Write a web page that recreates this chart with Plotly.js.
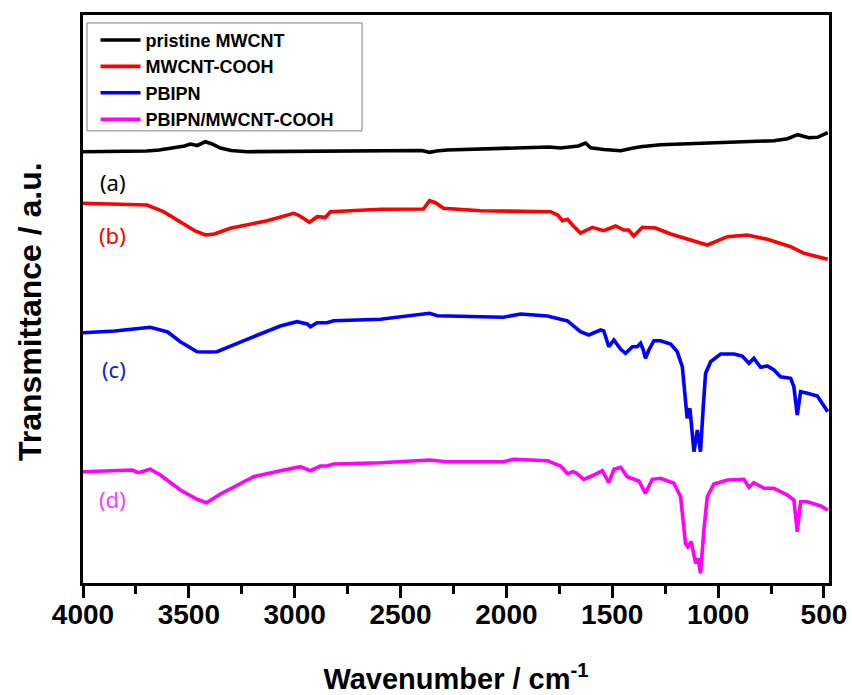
<!DOCTYPE html>
<html>
<head>
<meta charset="utf-8">
<script src="https://cdn.plot.ly/plotly-3.0.1.min.js"></script>
<style>html,body{margin:0;padding:0;background:#fff;}#chart{width:852px;height:695px;}</style>
</head>
<body>
<div id="chart"></div>
<script>
// Wavenumber (cm^-1) and transmittance (arbitrary units, offset traces)
const seriesNames = ["pristine MWCNT", "MWCNT-COOH", "PBIPN", "PBIPN/MWCNT-COOH"];
const seriesColors = ["#000000", "#ff0000", "#0000ff", "#ff00ff"];
const curveLabels = ["(a)", "(b)", "(c)", "(d)"];
const labelColors = ["#000000", "#ff0000", "#1a1ae6", "#ff3cff"];
const xTickVals = [4000, 3500, 3000, 2500, 2000, 1500, 1000, 500];
const xTickText = ["4000", "3500", "3000", "2500", "2000", "1500", "1000", "500"];

const wnA = [4000,3800,3700,3640,3556,3520,3493,3460,3422,3390,3351,3300,3225,3000,2700,2500,2400,2363,2330,2280,2000,1800,1744,1660,1626,1602,1540,1460,1400,1366,1272,1083,879,860,736,672,624,572,530,482];
const tA  = [431.3,431.5,432,433,436.3,437,439,437.5,441.3,439,435,432.5,431.3,431.5,431.8,432.2,432.5,430.7,432,433,434.7,436,435,437,440,435.3,433.5,432.3,435,436.3,438.3,439.7,440.7,441.7,442.3,444.3,448.3,445.3,445.7,450.3];

const wnB = [4000,3850,3698,3620,3540,3470,3422,3380,3304,3130,3005,2983,2930,2894,2855,2831,2595,2392,2363,2335,2297,2122,1792,1758,1735,1711,1688,1650,1594,1540,1484,1445,1423,1398,1358,1295,1224,1146,1051,956,862,767,657,594,482];
const tB  = [379.7,379,378,371.3,361.3,352,348,349,354.7,362.3,369.7,368,360.7,366.3,365.7,371.3,373.7,374,382.3,380.3,374.7,372.3,371.3,368,362.3,363.7,358,350,355.7,352.3,357,353,353,347,355.7,355,349,343.7,338,346.3,348,343.7,336.3,329.7,323.7];

const wnC = [4000,3850,3682,3600,3540,3461,3400,3367,3225,3068,2989,2941,2926,2894,2847,2816,2595,2363,2326,2122,2014,1933,1806,1730,1713,1650,1611,1555,1540,1516,1492,1460,1437,1405,1382,1366,1353,1343,1327,1303,1272,1224,1193,1169,1154,1146,1133,1114,1098,1083,1070,1059,1035,988,925,886,854,831,799,767,736,705,657,642,626,610,578,531,482];
const tC  = [250.3,252,255.7,251,241.3,231.3,231,231.3,243.7,257,261.3,259,256.3,260.3,260.3,262.3,263.7,269.7,267.3,266.3,265.7,269,267,263,262.3,251.3,248,253,252,236.3,243,233.7,229.7,236.3,236.3,239.7,233,224.7,233,242.3,242.3,239,231.3,216.3,176.3,164.7,174.7,131.3,153,131.3,176.3,209.7,221.3,229,229,227,219.7,224.7,215.7,217,213,206.3,204.7,196.3,168,191.3,189.7,187,171.3];

const wnD = [4000,3768,3739,3682,3635,3540,3461,3417,3351,3194,3068,2973,2926,2879,2847,2816,2595,2363,2280,2014,1966,1806,1744,1713,1705,1688,1673,1650,1634,1587,1547,1516,1492,1460,1429,1374,1343,1311,1272,1209,1177,1154,1143,1127,1106,1095,1083,1067,1051,1020,956,878,854,831,783,736,673,642,626,610,578,515,482];
const tD  = [111.3,113,110.3,113.7,108,93,83.7,80.3,89,106.3,112.3,116.3,112.3,117,117,119,120.3,123,121.3,121.3,123.7,122.3,117,109.7,109.7,111.3,110.3,106.3,103.7,108,112.3,100.3,113.7,115.7,106.3,102,89.7,103.7,104.7,99.7,86.3,39.7,36.3,41.3,19.7,24.7,9.7,53,86.3,99,103,103.7,95.7,100.3,94.7,94.7,88,83,51.3,81.3,81.3,77,73];

// label anchor positions (wavenumber, transmittance)
const labelWn = [3860, 3860, 3855, 3860];
const labelT  = [401, 348, 214, 84];

const wnAll = [wnA, wnB, wnC, wnD];
const tAll = [tA, tB, tC, tD];

const traces = seriesNames.map((name, i) => ({
  type: 'scatter', mode: 'lines', name: name,
  x: wnAll[i], y: tAll[i],
  line: {color: seriesColors[i], width: 3.6, shape: 'linear'}
}));

const sans = "'Liberation Sans', Arial, sans-serif";

const annotations = curveLabels.map((txt, i) => ({
  x: labelWn[i], y: labelT[i], xref: 'x', yref: 'y',
  text: txt, showarrow: false,
  font: {family: "'Noto Sans', 'Liberation Sans', sans-serif", size: 22, color: labelColors[i]}
}));
// y-axis title placed slightly below the plot centre, as in the reference
annotations.push({
  x: -0.071, y: 0.477, xref: 'paper', yref: 'paper', textangle: -90,
  xanchor: 'center', yanchor: 'middle', showarrow: false,
  text: 'Transmittance / a.u.',
  font: {family: sans, size: 32, color: '#000', weight: 'bold'}
});

const layout = {
  width: 852, height: 695,
  margin: {l: 83, r: 23, t: 15, b: 112},
  paper_bgcolor: '#ffffff', plot_bgcolor: '#ffffff',
  showlegend: true,
  legend: {
    x: 0.0168, y: 0.988, xanchor: 'left', yanchor: 'top',
    borderwidth: 0, bgcolor: 'rgba(255,255,255,0)',
    font: {family: sans, size: 18, color: '#000', weight: 'bold'},
    itemwidth: 40, tracegroupgap: 0
  },
  shapes: [{
    type: 'rect', xref: 'paper', yref: 'paper',
    x0: 0.0054, x1: 0.374, y0: 0.796, y1: 0.986,
    line: {color: '#7f7f7f', width: 1}, fillcolor: 'rgba(0,0,0,0)', layer: 'above'
  }],
  xaxis: {
    range: [4000, 476], autorange: false,
    showline: true, linecolor: '#000', linewidth: 3, mirror: true,
    showgrid: false, zeroline: false,
    tickmode: 'array', tickvals: xTickVals, ticktext: xTickText,
    ticks: 'outside', ticklen: 12, tickwidth: 3, tickcolor: '#000',
    ticklabelstandoff: -8,
    minor: {ticks: 'outside', ticklen: 8, tickwidth: 3, tickcolor: '#000', dtick: 250, tick0: 500, showgrid: false},
    tickfont: {family: sans, size: 28, color: '#000', weight: 'bold'},
    title: {text: 'Wavenumber / cm<sup>-1</sup>', font: {family: sans, size: 29, color: '#000', weight: 'bold'}, standoff: 42}
  },
  yaxis: {
    range: [0, 568], autorange: false,
    showline: true, linecolor: '#000', linewidth: 3, mirror: true,
    showgrid: false, zeroline: false, showticklabels: false, ticks: ''
  },
  annotations: annotations
};

Plotly.newPlot('chart', traces, layout, {displayModeBar: false, staticPlot: true});
</script>
</body>
</html>
